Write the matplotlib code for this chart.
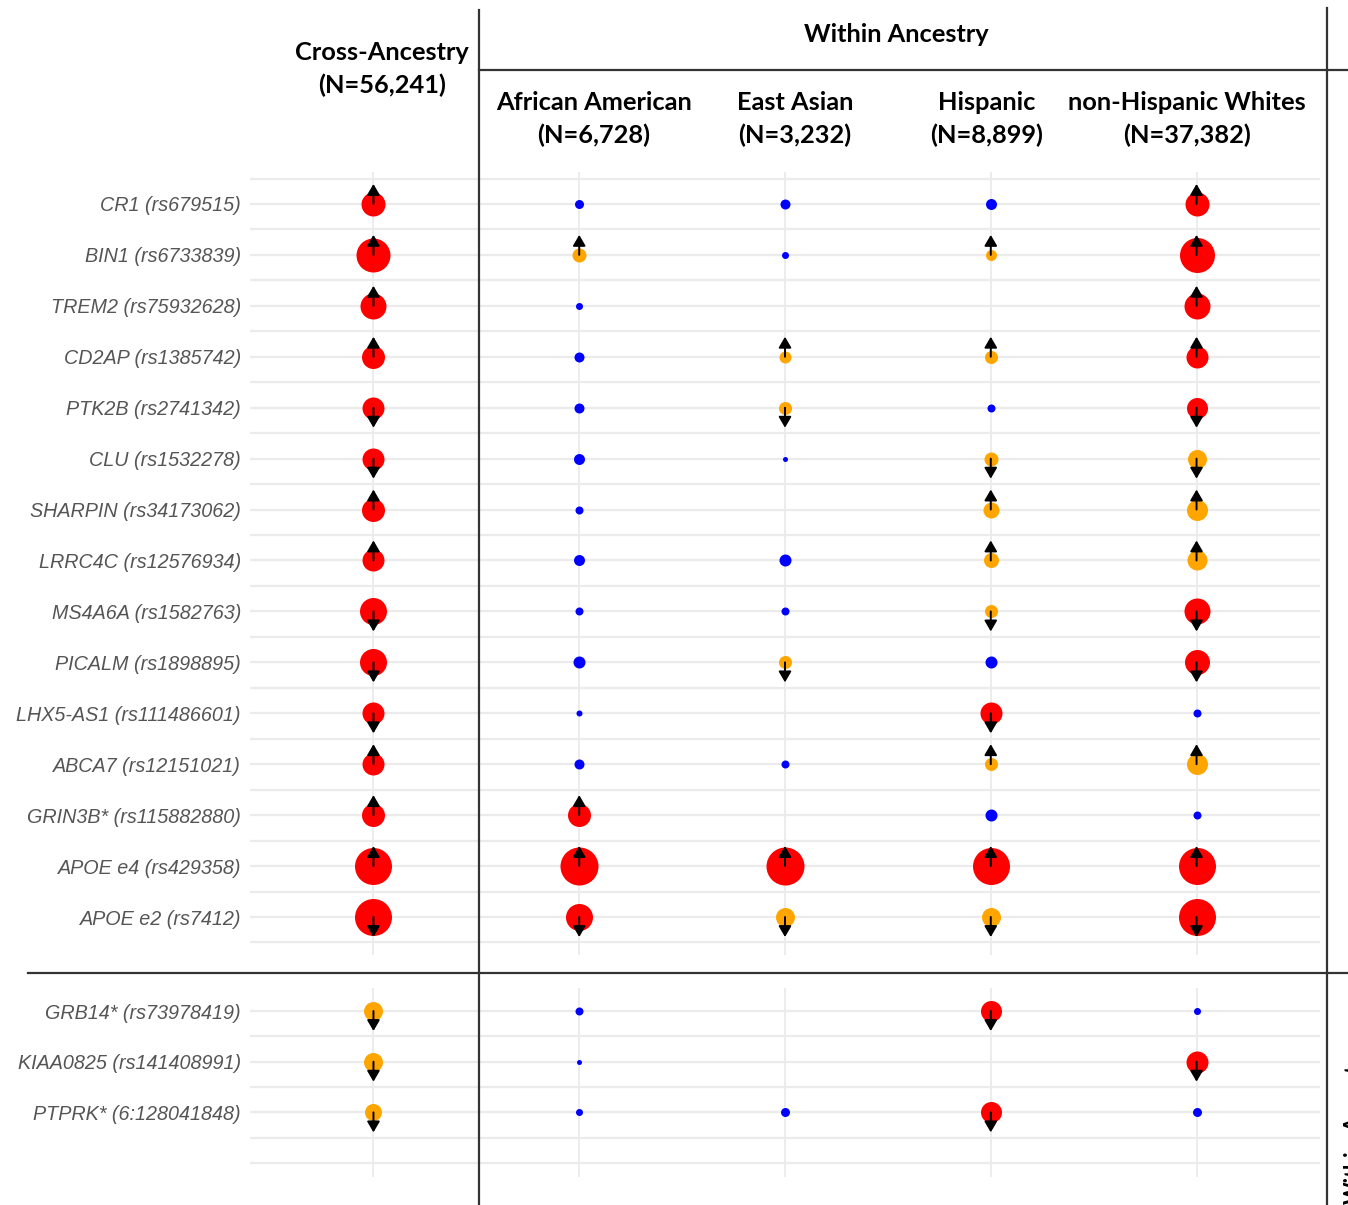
import matplotlib
matplotlib.use("Agg")
import matplotlib.pyplot as plt
from matplotlib.lines import Line2D

W, H = 1348, 1205

# variants: 15 known loci on top, 3 novel ones below the separator
top_labels = ["CR1 (rs679515)", "BIN1 (rs6733839)", "TREM2 (rs75932628)",
              "CD2AP (rs1385742)", "PTK2B (rs2741342)", "CLU (rs1532278)",
              "SHARPIN (rs34173062)", "LRRC4C (rs12576934)", "MS4A6A (rs1582763)",
              "PICALM (rs1898895)", "LHX5-AS1 (rs111486601)", "ABCA7 (rs12151021)",
              "GRIN3B* (rs115882880)", "APOE e4 (rs429358)", "APOE e2 (rs7412)"]
bottom_labels = ["GRB14* (rs73978419)", "KIAA0825 (rs141408991)",
                 "PTPRK* (6:128041848)"]

groups = ["Cross-Ancestry", "African American", "East Asian", "Hispanic",
          "non-Hispanic Whites"]
group_n = ["56,241", "6,728", "3,232", "8,899", "37,382"]

# point size per variant (0 = not tested), same order as labels (top then bottom)
size_cross = [24, 34, 26, 23, 22, 22, 23, 22, 27, 27, 22, 22, 23, 37, 37, 19, 19, 17]
size_aa = [9, 14, 7, 10, 10, 11, 8, 11, 8, 12, 6, 10, 23, 38, 27, 8, 5, 7]
size_ea = [10, 7, 0, 12, 13, 5, 0, 12, 8, 13, 0, 8, 0, 38, 19, 0, 0, 9]
size_hisp = [11, 11, 0, 13, 8, 14, 16, 15, 13, 12, 22, 13, 12, 37, 19, 21, 0, 21]
size_nhw = [24, 35, 26, 22, 21, 19, 21, 20, 26, 25, 8, 21, 8, 37, 37, 7, 22, 9]

# significance class: g = genome-wide, s = suggestive, n = not significant
sig_cross = "gggggggggggggggsss"
sig_aa = "nsnnnnnnnnnngggnnn"
sig_ea = "nn-ssn-nns-n-gs--n"
sig_hisp = "ns-snssssngsngsg-g"
sig_nhw = "gggggsssggnsnggngn"

# effect direction: 1 up, -1 down, 0 no arrow
dir_cross = [1, 1, 1, 1, -1, -1, 1, 1, -1, -1, -1, 1, 1, 1, -1, -1, -1, -1]
dir_aa = [0, 1, 0, 0, 0, 0, 0, 0, 0, 0, 0, 0, 1, 1, -1, 0, 0, 0]
dir_ea = [0, 0, 0, 1, -1, 0, 0, 0, 0, -1, 0, 0, 0, 1, -1, 0, 0, 0]
dir_hisp = [0, 1, 0, 1, 0, -1, 1, 1, -1, 0, -1, 1, 0, 1, -1, -1, 0, -1]
dir_nhw = [1, 1, 1, 1, -1, -1, 1, 1, -1, -1, 0, 1, 0, 1, -1, 0, -1, 0]

sizes = [size_cross, size_aa, size_ea, size_hisp, size_nhw]
sigs = [sig_cross, sig_aa, sig_ea, sig_hisp, sig_nhw]
dirs = [dir_cross, dir_aa, dir_ea, dir_hisp, dir_nhw]
colors = {"g": "#FF0000", "s": "#FFA500", "n": "#0000FF"}

grid_col = "#ebebeb"
line_col = "#333333"


def px_box(x0, y0, x1, y1):
    return [x0 / W, 1 - y1 / H, (x1 - x0) / W, (y1 - y0) / H]


fig = plt.figure(figsize=(W / 100, H / 100), dpi=100)

ax_top = fig.add_axes(px_box(250, 172, 1320, 955))
ax_bot = fig.add_axes(px_box(250, 988, 1320, 1177))

n_top = len(top_labels)
panels = [
    (ax_top, top_labels, range(0, n_top), (15.746, 0.372), 0.5, n_top + 0.5),
    (ax_bot, bottom_labels + [""], range(n_top, n_top + 3), (4.276, 0.546), 1.5, 3.5),
]

for ax, labels, idx, ylim, mfirst, mlast in panels:
    nrow = len(labels)
    rows = list(range(1, nrow + 1))
    ax.set_xlim(-0.6, 4.6)
    ax.set_ylim(*ylim)
    for s in ax.spines.values():
        s.set_visible(False)
    ax.set_xticks([])
    ax.set_yticks(rows)
    ax.set_yticklabels(labels, fontstyle="italic", family="Liberation Sans",
                       fontsize=14.2, color="#555555")
    ax.tick_params(axis="y", length=0, pad=6.5)

    # grid: rows, half rows and group columns
    for r in rows:
        ax.axhline(r, color=grid_col, lw=1.6, zorder=0)
    m = mfirst
    while m <= mlast:
        ax.axhline(m, color=grid_col, lw=1.6, zorder=0)
        m += 1
    for c in range(len(groups)):
        ax.axvline(c, color=grid_col, lw=1.3, zorder=0)

    for c in range(len(groups)):
        for r, i in enumerate(idx, start=1):
            d = sizes[c][i]
            if d == 0:
                continue
            ax.scatter(c, r, s=(0.72 * d) ** 2, color=colors[sigs[c][i]],
                       linewidths=0, zorder=3)
            if dirs[c][i] != 0:
                ax.annotate("", xy=(c, r), xycoords="data",
                            xytext=(0, 14.4 * dirs[c][i]),
                            textcoords="offset points",
                            arrowprops=dict(arrowstyle="<|-,head_length=0.65,head_width=0.38",
                                            color="black", lw=1.4,
                                            shrinkA=0, shrinkB=0),
                            zorder=4)


def fig_line(x0, y0, x1, y1, lw=1.6):
    fig.add_artist(Line2D([x0 / W, x1 / W], [1 - y0 / H, 1 - y1 / H],
                          transform=fig.transFigure, color=line_col, lw=lw))


# table rules
fig_line(479, 10, 479, H)
fig_line(1327, 8, 1327, H)
fig_line(479, 70, W, 70)
fig_line(28, 973, W, 973)

hdr = dict(family=["Lato", "DejaVu Sans"], fontweight="bold", fontsize=18.3,
           ha="center", va="center", color="black")


def fig_text(x, y, s, **kw):
    fig.text(x / W, 1 - y / H, s, **kw)


fig_text(382, 53, groups[0], **hdr)
fig_text(382, 85, "(N=%s)" % group_n[0], **hdr)
fig_text(896, 35, "Within Ancestry", **hdr)
for x, g, n in zip([594, 795, 987, 1187], groups[1:], group_n[1:]):
    fig_text(x, 103, g, **hdr)
    fig_text(x, 135, "(N=%s)" % n, **hdr)

# side title, mostly beyond the right edge
fig_text(1354, 1204, "Within-Ancestry", rotation=90, ha="center", va="bottom",
         family=["Lato", "DejaVu Sans"], fontweight="bold", fontsize=15.5)

fig.savefig("out.png", dpi=100)
